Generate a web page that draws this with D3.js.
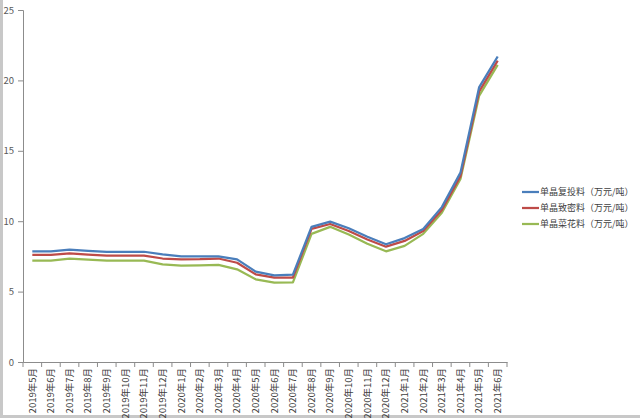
<!DOCTYPE html>
<html><head><meta charset="utf-8">
<script src="https://cdn.jsdelivr.net/npm/d3@7"></script>
<style>body{margin:0;background:#fff}svg{display:block}</style>
</head><body><svg id="c" width="640" height="418"></svg>
<script>
const months = ["2019年5月","2019年6月","2019年7月","2019年8月","2019年9月","2019年10月","2019年11月","2019年12月",
"2020年1月","2020年2月","2020年3月","2020年4月","2020年5月","2020年6月","2020年7月","2020年8月","2020年9月","2020年10月","2020年11月","2020年12月",
"2021年1月","2021年2月","2021年3月","2021年4月","2021年5月","2021年6月"];
const seriesNames = ["单晶复投料（万元/吨）","单晶致密料（万元/吨）","单晶菜花料（万元/吨）"];
const fuTou = [7.85,7.85,7.98,7.9,7.83,7.83,7.83,7.65,7.5,7.5,7.5,7.29,6.42,6.15,6.2,9.6,9.97,9.5,8.9,8.36,8.8,9.45,11.0,13.45,19.5,21.7];
const zhiMi = [7.6,7.6,7.72,7.63,7.55,7.55,7.55,7.35,7.29,7.3,7.35,7.05,6.23,5.99,6.0,9.45,9.8,9.3,8.7,8.19,8.6,9.3,10.8,13.2,19.2,21.4];
const caiHua = [7.2,7.2,7.34,7.27,7.2,7.2,7.2,6.94,6.84,6.86,6.9,6.58,5.87,5.63,5.65,9.1,9.6,9.05,8.4,7.86,8.25,9.1,10.6,13.0,18.9,21.1];
const yTicks = [0,5,10,15,20,25];
const colors = ["#4a7ebb","#be4b48","#98b954"];

const svg = d3.select("#c");
const m = {l:23, r:507, t:10, b:362};
const x = d3.scaleBand().domain(months).range([m.l, m.r]).padding(0);
const y = d3.scaleLinear().domain([0,25]).range([m.b, m.t]);
const font = "'Noto Sans CJK SC', 'Liberation Sans', sans-serif";

// outer chart border
svg.append("path").attr("d","M1.5,0 V416.5 H640").attr("fill","none").attr("stroke","#c8c8c8").attr("stroke-width",3);

// y axis
const ya = svg.append("g").attr("transform",`translate(${m.l},0)`)
  .call(d3.axisLeft(y).tickValues(yTicks).tickSize(5).tickPadding(4));
ya.select(".domain").attr("stroke","#8c8c8c");
ya.selectAll(".tick line").attr("stroke","#8c8c8c");
ya.selectAll("text").attr("font-family",font).attr("font-size",9.5).attr("fill","#595959");

// x axis
const xa = svg.append("g").attr("transform",`translate(0,${m.b})`)
  .call(d3.axisBottom(x).tickSize(0).tickPadding(0));
xa.select(".domain").attr("stroke","#8c8c8c");
xa.selectAll(".tick text")
  .attr("font-family",font).attr("font-size",9.5).attr("fill","#404040")
  .attr("transform","rotate(-90)").attr("text-anchor","end")
  .attr("x",-6).attr("y",0).attr("dy","0.35em");
// tick marks at category boundaries
const bounds = months.map(d=>x(d)).concat([x(months[months.length-1])+x.bandwidth()]);
svg.append("g").selectAll("line").data(bounds).join("line")
  .attr("x1",d=>d).attr("x2",d=>d).attr("y1",m.b).attr("y2",m.b+5)
  .attr("stroke","#8c8c8c");

// lines
const data = [fuTou, zhiMi, caiHua];
const line = d3.line().x((d,i)=>x(months[i])+x.bandwidth()/2).y(d=>y(d));
[2,1,0].forEach(k=>{
  svg.append("path").datum(data[k]).attr("d",line).attr("fill","none")
    .attr("stroke",colors[k]).attr("stroke-width",2.25).attr("stroke-linejoin","round");
});

// legend
const lg = svg.append("g");
seriesNames.forEach((n,k)=>{
  const yy = 192 + k*16;
  lg.append("line").attr("x1",522).attr("x2",539).attr("y1",yy).attr("y2",yy)
    .attr("stroke",colors[k]).attr("stroke-width",2.25);
  lg.append("text").attr("x",540).attr("y",yy).attr("dy","0.35em")
    .attr("font-family",font).attr("font-size",9).attr("fill","#404040").text(n);
});
</script></body></html>
